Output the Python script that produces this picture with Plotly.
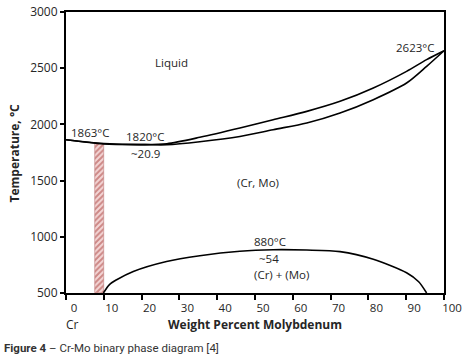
import plotly.graph_objects as go

# Liquidus (upper) and solidus (lower) of the (Cr, Mo) field
liq_x = [0, 10, 20.9, 26.7, 35.4, 46, 54.8, 63.7, 72.5, 81.3, 90.1, 95.4, 100]
liq_t = [1863, 1830, 1820, 1828, 1885, 1968, 2042, 2116, 2205, 2324, 2472, 2576, 2655]
sol_x = [0, 10, 20.9, 26.7, 35.4, 46, 54.8, 63.7, 72.5, 81.3, 90.1, 95.4, 100]
sol_t = [1863, 1826, 1820, 1819, 1846, 1893, 1953, 2012, 2101, 2220, 2368, 2516, 2655]

# Miscibility gap (Cr) + (Mo)
gap_x = [9.9, 11.5, 13.4, 17.8, 26.6, 35.4, 46, 54.8, 63.7, 72.5, 81.3, 90.1, 93.3, 95.4]
gap_t = [500, 575, 618, 692, 781, 832, 872, 885, 882, 868, 800, 680, 600, 500]

# Hatched composition band
band_x = [8.9]
band_w = [2.4]
band_lo = [500]
band_hi = [1822]

x_ticks = [0, 10, 20, 30, 40, 50, 60, 70, 80, 90, 100]
y_ticks = [500, 1000, 1500, 2000, 2500, 3000]

labels = [
    ("Liquid", 28, 2550),
    ("1863°C", 6.3, 1926),
    ("1820°C", 20.9, 1891),
    ("~20.9", 21.1, 1739),
    ("2623°C", 92.3, 2688),
    ("(Cr, Mo)", 50.8, 1481),
    ("880°C", 54, 959),
    ("~54", 53.7, 805),
    ("(Cr) + (Mo)", 57, 669),
]

FONT = "Open Sans"
TXT = "#262626"

fig = go.Figure()
fig.add_trace(go.Bar(
    x=band_x, y=[h - l for h, l in zip(band_hi, band_lo)], base=band_lo, width=band_w,
    marker=dict(color="#f4d9d9", line=dict(color="#c07c7c", width=0.6),
                pattern=dict(shape="/", fgcolor="#a83a36", bgcolor="#f3d6d6", size=4, solidity=0.5)),
    hoverinfo="skip", showlegend=False))
for xs, ts in [(liq_x, liq_t), (sol_x, sol_t), (gap_x, gap_t)]:
    fig.add_trace(go.Scatter(x=xs, y=ts, mode="lines", line=dict(color="black", width=1.6, shape="spline", smoothing=0.8),
                             showlegend=False, hoverinfo="skip"))

for text, x, y in labels:
    fig.add_annotation(x=x, y=y, text=text, showarrow=False, font=dict(family=FONT, size=11.5, color=TXT),
                       xanchor="center", yanchor="middle")

row_y = -0.113
fig.add_annotation(xref="x", yref="paper", x=1.8, y=row_y, text="Cr", showarrow=False,
                   font=dict(family=FONT, size=12, color=TXT), xanchor="center", yanchor="middle")
fig.add_annotation(xref="x", yref="paper", x=102.3, y=row_y, text="Mo", showarrow=False,
                   font=dict(family=FONT, size=12, color=TXT), xanchor="center", yanchor="middle")
fig.add_annotation(xref="x", yref="paper", x=50, y=row_y, text="<b>Weight Percent Molybdenum</b>", showarrow=False,
                   font=dict(family=FONT, size=12, color=TXT), xanchor="center", yanchor="middle")
fig.add_annotation(xref="paper", yref="paper", x=-0.135, y=0.5, text="<b>Temperature, °C</b>", showarrow=False,
                   textangle=-90, font=dict(family=FONT, size=12, color=TXT), xanchor="center", yanchor="middle")
fig.add_annotation(xref="paper", yref="paper", x=-0.168, y=-0.194,
                   text="<b>Figure 4</b> – Cr-Mo binary phase diagram [4]", showarrow=False,
                   font=dict(family="Roboto", size=11.5, color="#333333"), xanchor="left", yanchor="middle")

fig.update_layout(
    width=474, height=355,
    margin=dict(l=66, r=30, t=12, b=62),
    plot_bgcolor="white", paper_bgcolor="white",
    bargap=0,
)
fig.update_xaxes(range=[0, 100], tickvals=x_ticks, ticks="outside", ticklen=5, tickwidth=1.5, tickcolor="black",
                 showline=True, linewidth=2, linecolor="black", mirror=True, showgrid=False, zeroline=False,
                 automargin=False, ticklabelshift=8, ticklabelstandoff=-2,
                 tickfont=dict(family=FONT, size=11.5, color=TXT))
fig.update_yaxes(range=[500, 3000], tickvals=y_ticks, ticks="outside", ticklen=4, tickwidth=1.5, tickcolor="black",
                 showline=True, linewidth=2, linecolor="black", mirror=True, showgrid=False, zeroline=False,
                 automargin=False, tickfont=dict(family=FONT, size=12, color=TXT))

fig.write_html("out.html", config={"displayModeBar": False},
               post_script="document.body.style.margin='0px';document.body.style.overflow='hidden';")
